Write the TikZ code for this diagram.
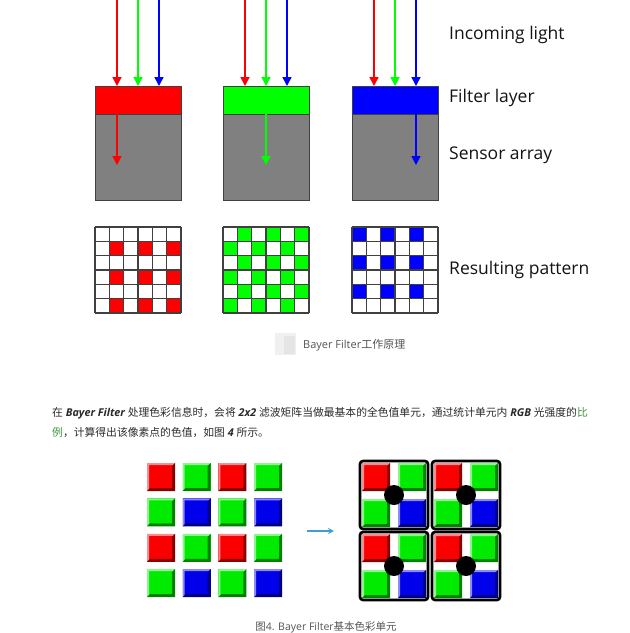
\documentclass[tikz,border=0pt]{standalone}
\usepackage{fontspec}
\setmainfont{Open Sans}
\newfontfamily\cjk{Noto Sans CJK SC}
\usetikzlibrary{arrows.meta,calc}
\definecolor{txt}{HTML}{2A2A2A}
\definecolor{captc}{HTML}{555555}
\definecolor{gridc}{HTML}{404040}
\definecolor{sensorc}{HTML}{808080}
\definecolor{linkgreen}{RGB}{60,150,60}
\definecolor{arrowblue}{RGB}{60,160,210}
\definecolor{bred}{RGB}{250,0,0}
\definecolor{bgreen}{RGB}{0,235,0}
\definecolor{bblue}{RGB}{0,0,235}
\newcommand\bvtile[4]{%
  \fill[#4] (#1,#2) rectangle ++(#3,#3);
  \fill[#4!45!white] (#1,#2) -- ++(#3,0) -- ++(-2,2) -- ++(4-#3,0) -- ++(0,#3-4) -- ++(-2,2) -- cycle;
  \fill[#4!55!black] (#1,#2+#3) -- ++(#3,0) -- ++(0,-#3) -- ++(-3,3) -- ++(0,#3-6) -- ++(6-#3,0) -- cycle;
}
\tikzset{
  lightarrow/.style={line width=1.5pt,-{Triangle[length=9pt,width=9pt]}},
  innerarrow/.style={line width=1.3pt,-{Triangle[length=9pt,width=9pt]}},
  filterbox/.style={draw=gridc,line width=1pt,minimum width=86pt,minimum height=28pt,inner sep=0pt,outer sep=0pt,anchor=north west},
  sensorbox/.style={draw=gridc,line width=1pt,fill=sensorc,minimum width=86pt,minimum height=86pt,inner sep=0pt,outer sep=0pt,anchor=north west},
  gridline/.style={draw=gridc,line width=1.3pt},
  label/.style={anchor=west,inner sep=0pt,text=black!92,font=\fontsize{17.5}{20}\selectfont},
  para/.style={anchor=west,inner sep=0pt,text=txt,font=\fontsize{10.8}{14}\selectfont},
  capt/.style={inner sep=0pt,text=captc}
}
\begin{document}
\begin{tikzpicture}[x=1pt,y=-1pt]
\fill[white] (0,0) rectangle (630,633);
\useasboundingbox (0,0) rectangle (630,633);

% ---------- top section ----------
\foreach \L/\c/\k [count=\i] in {95/red/0,223/green/1,352/blue/2} {
  \node[filterbox,fill=\c] (f\i) at (\L,86) {};
  \node[sensorbox] (s\i) at (\L,114) {};
  \foreach \dx/\cc in {22/red,43/green,64/blue} {
    \coordinate (t\i\cc) at (\L+\dx,0);
    \draw[lightarrow,\cc] (t\i\cc) -- (t\i\cc |- f\i.north);
  }
  \coordinate (in\i) at (\L+22+21*\k,114);
  \coordinate (ie\i) at (\L+22+21*\k,165);
  \draw[innerarrow,\c] (in\i) -- (ie\i);
}

% ---------- resulting patterns ----------
\def\cs{14.3333}
\foreach \r in {1,3,5} {\foreach \cc in {1,3,5} {
  \fill[red] (95+\cc*\cs,227+\r*\cs) rectangle ++(\cs,\cs);}}
\foreach \r in {0,2,4} {\foreach \cc in {0,2,4} {
  \fill[blue] (352+\cc*\cs,227+\r*\cs) rectangle ++(\cs,\cs);}}
\foreach \r in {0,...,5} {\foreach \cc in {0,...,5} {
  \pgfmathtruncatemacro\m{mod(\r+\cc,2)}
  \ifnum\m=1 \fill[green] (223+\cc*\cs,227+\r*\cs) rectangle ++(\cs,\cs); \fi
}}
\foreach \L in {95,223,352} {\foreach \j in {0,...,6} {
  \draw[gridline] (\L+\j*\cs,227) -- (\L+\j*\cs,313);
  \draw[gridline] (\L,227+\j*\cs) -- (\L+86,227+\j*\cs);
}}

% ---------- labels ----------
\node[label] (l1) at (449,35) {Incoming light};
\node[label] (l2) at (449,98) {Filter layer};
\node[label] (l3) at (449,155) {Sensor array};
\node[label] (l4) at (449,270) {Resulting pattern};

% ---------- caption 1 ----------
\fill[black!6] (275,333) rectangle (296,355);
\fill[black!10] (284,336) rectangle (295,354);
\node[capt,anchor=west,font=\fontsize{11}{13}\selectfont] (c1) at (303,345) {Bayer Filter{\cjk 工作原理}};

% ---------- paragraph ----------
\node[para] (p1) at (52,413) {{\cjk 在} {\bfseries\itshape Bayer Filter} {\cjk 处理色彩信息时，会将} {\bfseries\itshape 2x2} {\cjk 滤波矩阵当做最基本的全色值单元，通过统计单元内} {\bfseries\itshape RGB} {\cjk 光强度的\textcolor{linkgreen}{比}}};
\node[para] (p2) at (52,433) {{\cjk\textcolor{linkgreen}{例}，计算得出该像素点的色值，如图} {\bfseries\itshape 4} {\cjk 所示。}};

% ---------- Bayer tiles ----------
\foreach \r in {0,2} {
  \foreach \cc/\col in {0/bred,1/bgreen,2/bred,3/bgreen} {
    \bvtile{147+35.7*\cc}{463+35.4*\r}{28}{\col}
  }
}
\foreach \r in {1,3} {
  \foreach \cc/\col in {0/bgreen,1/bblue,2/bgreen,3/bblue} {
    \bvtile{147+35.7*\cc}{463+35.4*\r}{28}{\col}
  }
}

% ---------- arrow ----------
\coordinate (a1) at (307,531);
\coordinate (a2) at (334,531);
\draw[arrowblue,line width=1.2pt,-{Stealth[length=6pt,width=6pt]}] (a1) -- (a2);

% ---------- combined cells ----------
\foreach \X/\Y in {360/461,432/461,360/532,432/532} {
  \fill[white] (\X,\Y) rectangle ++(68,68);
  \bvtile{\X+2}{\Y+2}{28}{bred}
  \bvtile{\X+38}{\Y+2}{28}{bgreen}
  \bvtile{\X+2}{\Y+38}{28}{bgreen}
  \bvtile{\X+38}{\Y+38}{28}{bblue}
  \fill[black] (\X+34,\Y+34) circle (10);
  \draw[black,line width=2.6pt,rounded corners=3pt] (\X,\Y) rectangle ++(68,68);
}

% ---------- caption 2 ----------
\node[capt,font=\fontsize{10.5}{12}\selectfont] (c2) at (326,627) {{\cjk 图}4. Bayer Filter{\cjk 基本色彩单元}};
\end{tikzpicture}
\end{document}
